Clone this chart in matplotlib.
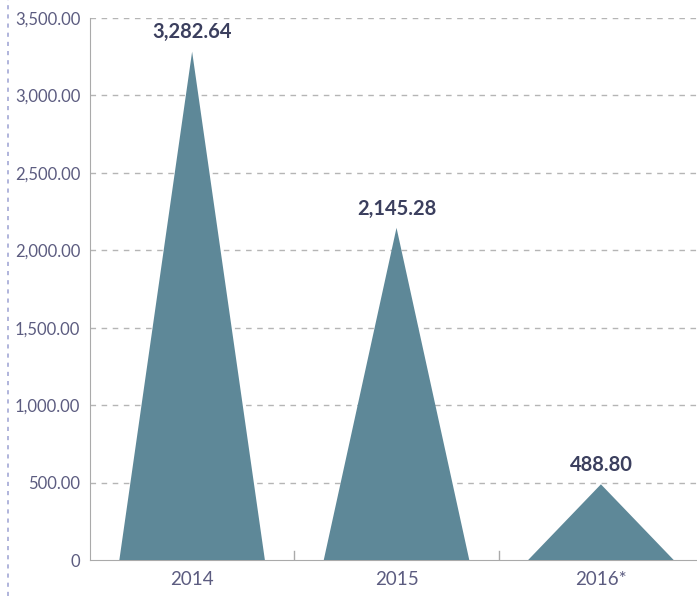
import matplotlib.pyplot as plt
from matplotlib.patches import Polygon
from matplotlib.lines import Line2D

# Data
years = ['2014', '2015', '2016*']
values = [3282.64, 2145.28, 488.80]
value_labels = ['3,282.64', '2,145.28', '488.80']
y_ticks = [0, 500, 1000, 1500, 2000, 2500, 3000, 3500]
y_tick_labels = ['0', '500.00', '1,000.00', '1,500.00', '2,000.00',
                 '2,500.00', '3,000.00', '3,500.00']

fill_color = '#5e8898'
label_color = '#3b3f5e'
tick_color = '#5c5c80'
font = ['Lato', 'DejaVu Sans']

fig = plt.figure(figsize=(6.97, 5.96), dpi=100)
ax = fig.add_axes([0.129, 0.0604, 0.871, 0.9094])

half_w = 0.356
for i, v in enumerate(values):
    tri = Polygon([[i - half_w, 0], [i, v], [i + half_w, 0]], closed=True,
                  facecolor=fill_color, edgecolor='none', zorder=3)
    ax.add_patch(tri)
    ax.text(i, v + 60, value_labels[i], ha='center', va='bottom',
            fontsize=14.5, fontweight='bold', color=label_color,
            family=font, zorder=4)

ax.set_xlim(-0.5, 2.47)
ax.set_ylim(0, 3500)

ax.set_yticks(y_ticks)
ax.set_yticklabels(y_tick_labels, family=font, fontsize=12, color=tick_color)
ax.set_xticks(range(len(years)))
ax.set_xticklabels(years, family=font, fontsize=13.5, color=tick_color)
ax.tick_params(axis='y', length=0, pad=7)
ax.tick_params(axis='x', length=0, pad=8)

# separator ticks between categories
for xb in [0.5, 1.5]:
    ax.plot([xb, xb], [0, 60], color='#aaaaaa', lw=1, zorder=2)

for y in y_ticks[1:]:
    ax.axhline(y, color='#b5b5b5', lw=1, ls=(0, (4, 4)), zorder=1)

for s in ['top', 'right']:
    ax.spines[s].set_visible(False)
ax.spines['left'].set_color('#aaaaaa')
ax.spines['bottom'].set_color('#aaaaaa')

# dotted line at far left
fig.add_artist(Line2D([0.0115, 0.0115], [0.0, 1.0], transform=fig.transFigure,
                      color='#a3a8d6', lw=1.2, ls=(0, (2.5, 3))))

fig.savefig('out.png', dpi=100)
